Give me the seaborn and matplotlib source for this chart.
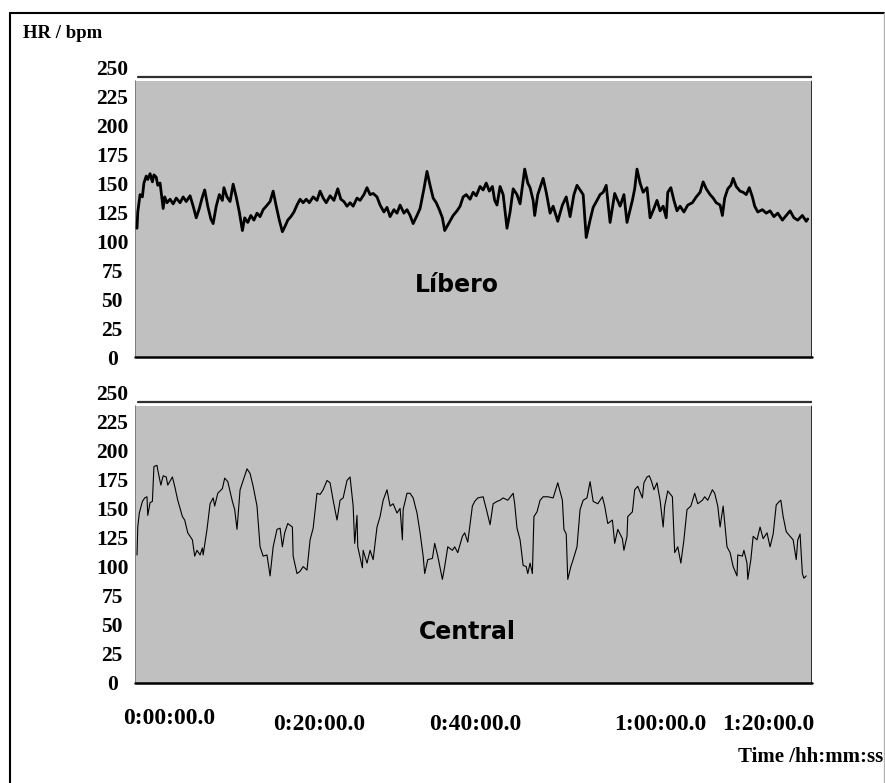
import pandas as pd
import matplotlib.pyplot as plt
import seaborn as sns
from matplotlib.lines import Line2D

# -------------------------------
# Data (time in minutes, HR in bpm)
# -------------------------------
libero_t = [0.0, 0.1, 0.4, 0.7, 0.9, 1.2, 1.4, 1.7, 2.0, 2.2,
            2.5, 2.7, 3.0, 3.4, 3.6, 3.9, 4.3, 4.7, 5.1, 5.6,
            6.0, 6.4, 6.9, 7.3, 7.7, 8.1, 8.5, 8.8, 9.2, 9.6,
            9.9, 10.3, 10.7, 11.1, 11.3, 11.7, 12.1, 12.5, 12.9, 13.3,
            13.7, 14.0, 14.4, 14.8, 15.2, 15.6, 16.0, 16.4, 16.8, 17.3,
            17.7, 18.1, 18.5, 18.9, 19.2, 19.6, 20.0, 20.4, 20.8, 21.2,
            21.6, 22.0, 22.4, 22.9, 23.4, 23.8, 24.2, 24.6, 25.1, 25.6,
            26.1, 26.5, 26.9, 27.3, 27.7, 28.1, 28.6, 29.0, 29.5, 29.9,
            30.3, 30.7, 31.2, 31.6, 32.1, 32.5, 32.9, 33.4, 33.8, 34.2,
            34.7, 35.1, 35.5, 35.9, 36.4, 36.8, 37.3, 37.7, 38.1, 38.5,
            38.9, 39.3, 39.7, 40.0, 40.6, 41.1, 41.6, 42.0, 42.4, 42.8,
            43.3, 43.7, 44.1, 44.6, 45.0, 45.4, 45.8, 46.2, 46.5, 46.8,
            47.2, 47.6, 48.1, 48.5, 48.9, 49.4, 49.8, 50.4, 50.8, 51.1,
            51.5, 51.7, 52.1, 52.8, 53.2, 53.7, 54.1, 54.7, 55.3, 55.8,
            56.3, 56.8, 57.2, 57.6, 58.0, 58.4, 58.9, 59.3, 59.8, 60.2,
            60.6, 61.0, 61.5, 62.1, 62.8, 63.3, 63.7, 64.4, 64.7, 65.0,
            65.4, 65.8, 66.3, 66.7, 67.2, 67.6, 68.0, 68.4, 68.8, 69.0,
            69.4, 69.8, 70.2, 70.6, 71.1, 71.6, 72.2, 72.7, 73.2, 73.6,
            74.0, 74.5, 74.9, 75.3, 75.8, 76.1, 76.4, 76.8, 77.2, 77.5,
            77.9, 78.4, 78.8, 79.2, 79.6, 80.0, 80.3, 80.7, 81.3, 81.8,
            82.3, 82.8, 83.3, 83.9, 84.4, 84.9, 85.4, 85.9, 86.5, 87.0, 87.2]
libero_hr = [111, 125, 140, 138, 150, 156, 153, 158, 151, 157,
             155, 148, 150, 128, 138, 133, 136, 132, 137, 133,
             138, 134, 139, 130, 120, 128, 138, 144, 130, 119,
             115, 130, 140, 135, 146, 138, 134, 149, 138, 125,
             109, 120, 116, 122, 118, 124, 121, 127, 130, 134,
             143, 130, 118, 108, 112, 118, 121, 125, 131, 136,
             133, 136, 133, 138, 135, 143, 137, 133, 139, 135,
             145, 136, 134, 130, 133, 130, 137, 135, 140, 146,
             140, 141, 138, 131, 125, 129, 121, 127, 124, 131,
             124, 127, 122, 115, 122, 128, 145, 160, 148, 137,
             133, 127, 120, 109, 116, 122, 126, 130, 138, 140,
             136, 142, 139, 147, 144, 150, 143, 147, 135, 131,
             147, 140, 111, 125, 145, 140, 132, 162, 150, 146,
             135, 122, 140, 154, 142, 124, 130, 117, 131, 138,
             121, 140, 148, 144, 140, 103, 118, 129, 135, 140,
             142, 148, 116, 141, 130, 140, 116, 135, 145, 162,
             150, 142, 146, 120, 128, 135, 126, 130, 120, 142,
             146, 135, 126, 130, 125, 131, 133, 138, 142, 151,
             145, 140, 137, 133, 131, 122, 137, 145, 148, 154,
             147, 143, 142, 140, 146, 138, 130, 125, 127, 124,
             126, 121, 124, 118, 122, 126, 120, 118, 122, 117, 119]

central_t = [0.0, 0.1, 0.3, 0.7, 1.0, 1.3, 1.4, 1.7, 2.0, 2.2,
             2.6, 2.7, 3.1, 3.4, 3.8, 4.0, 4.6, 4.9, 5.3, 5.9,
             6.2, 6.6, 7.2, 7.5, 7.8, 8.2, 8.5, 8.6, 9.1, 9.5,
             9.9, 10.1, 10.5, 11.1, 11.4, 11.8, 12.4, 12.7, 13.0, 13.4,
             13.8, 14.3, 14.7, 15.1, 15.6, 16.0, 16.4, 16.9, 17.3, 17.7,
             18.2, 18.6, 18.9, 19.2, 19.6, 20.2, 20.3, 20.8, 21.2, 21.6,
             22.1, 22.5, 22.9, 23.4, 23.8, 24.2, 24.7, 25.1, 25.5, 26.0,
             26.4, 26.8, 27.3, 27.7, 28.1, 28.3, 28.6, 28.7, 29.3, 29.4,
             29.9, 30.3, 30.7, 31.2, 31.6, 32.0, 32.5, 32.9, 33.3, 33.8,
             34.2, 34.5, 34.6, 35.1, 35.5, 35.9, 36.4, 36.8, 37.2, 37.4,
             37.8, 38.4, 38.7, 39.1, 39.7, 40.0, 40.4, 41.0, 41.3, 41.7,
             42.3, 42.6, 43.0, 43.6, 43.9, 44.3, 45.0, 45.5, 45.9, 46.3,
             46.8, 47.2, 47.6, 48.2, 48.9, 49.1, 49.4, 49.8, 50.2, 50.6,
             50.8, 51.1, 51.4, 51.6, 52.0, 52.4, 52.8, 53.4, 54.1, 54.7,
             55.3, 55.5, 55.8, 56.0, 56.4, 56.7, 57.2, 57.6, 58.0, 58.5,
             58.9, 59.3, 59.9, 60.5, 60.8, 61.2, 61.8, 62.1, 62.5, 63.1,
             63.3, 63.7, 63.8, 64.4, 64.7, 65.1, 65.7, 65.9, 66.3, 66.6,
             66.9, 67.2, 67.6, 68.0, 68.4, 68.6, 69.0, 69.6, 69.9, 70.3,
             70.7, 71.1, 71.5, 72.0, 72.5, 72.9, 73.5, 73.8, 74.2, 74.8,
             75.1, 75.5, 75.8, 76.2, 76.7, 77.1, 77.5, 78.0, 78.1, 78.7,
             78.9, 79.3, 79.4, 79.8, 80.1, 80.6, 81.0, 81.4, 81.9, 82.3,
             82.7, 83.1, 83.5, 83.7, 84.0, 84.4, 84.9, 85.3, 85.7, 85.9,
             86.2, 86.5, 86.7, 87.0]
central_hr = [110, 134, 146, 156, 159, 160, 144, 155, 156, 186,
              187, 183, 170, 178, 177, 170, 177, 169, 157, 143,
              140, 129, 123, 109, 114, 110, 116, 110, 132, 154,
              159, 152, 163, 167, 176, 173, 156, 149, 132, 166,
              174, 184, 180, 169, 152, 117, 109, 110, 92, 117,
              132, 133, 117, 129, 137, 134, 109, 94, 96, 100,
              97, 123, 133, 163, 162, 166, 174, 172, 157, 140,
              157, 159, 174, 177, 152, 120, 144, 117, 99, 114,
              103, 114, 106, 134, 143, 157, 166, 152, 154, 146,
              150, 123, 149, 163, 163, 159, 146, 129, 109, 94,
              106, 107, 120, 109, 89, 100, 117, 114, 117, 112,
              126, 129, 121, 152, 156, 159, 160, 147, 136, 154,
              156, 157, 159, 157, 163, 154, 133, 123, 101, 100,
              94, 103, 94, 143, 147, 157, 160, 160, 159, 172,
              157, 132, 128, 89, 100, 106, 117, 149, 157, 159,
              173, 156, 154, 160, 152, 137, 140, 120, 132, 124,
              114, 126, 143, 147, 166, 169, 159, 172, 177, 178,
              173, 166, 172, 157, 134, 152, 165, 160, 112, 117,
              103, 123, 149, 152, 163, 154, 157, 160, 157, 166,
              163, 152, 134, 152, 117, 112, 100, 92, 110, 109,
              114, 103, 89, 106, 126, 123, 134, 124, 129, 117,
              128, 153, 156, 157, 143, 130, 126, 123, 106, 123,
              128, 94, 90, 92]

y_ticks = list(range(0, 251, 25))
x_tick_labels = ["0:00:00.0", "0:20:00.0", "0:40:00.0", "1:00:00.0", "1:20:00.0"]
panel_names = ["Líbero", "Central"]

libero = pd.DataFrame({"t": libero_t, "hr": libero_hr})
central = pd.DataFrame({"t": central_t, "hr": central_hr})

# -------------------------------
# Style
# -------------------------------
sns.set_style("white")
plt.rcParams['font.family'] = ['Liberation Serif', 'DejaVu Serif']
plt.rcParams['font.weight'] = 'bold'
plt.rcParams['text.color'] = 'black'
plt.rcParams['ytick.color'] = 'black'

W, H = 885, 783
fig = plt.figure(figsize=(W / 100, H / 100), dpi=100)

# outer frame
fig.add_artist(Line2D([10 / W, 10 / W], [0, 1 - 13 / H], color='black', lw=1.5))
fig.add_artist(Line2D([10 / W, 884 / W], [1 - 13 / H, 1 - 13 / H], color='black', lw=1.5))
fig.add_artist(Line2D([884 / W, 884 / W], [0, 1 - 13 / H], color='#b0b0b0', lw=1))


def draw_panel(ax, df, name, lw, label_xy):
    ax.axhspan(0, 238, color='#c0c0c0', lw=0, zorder=0)
    ax.axhline(241, xmin=0.004, xmax=1, color='#303030', lw=1.6)
    ax.axvline(87.75, ymax=238 / 250, color='black', lw=1.8)
    ax.axvline(-0.26, ymax=238 / 250, color='#707070', lw=1.2)
    ax.axhline(0, color='black', lw=1.8, clip_on=False)
    sns.lineplot(data=df, x="t", y="hr", ax=ax, color='black', lw=lw,
                 estimator=None, sort=False, legend=False)
    ax.set_xlim(-0.26, 87.75)
    ax.set_ylim(0, 250)
    ax.set_xticks([])
    ax.set_yticks(y_ticks)
    ax.set_yticklabels([str(v) for v in y_ticks])
    ax.tick_params(axis='y', length=0, pad=16.5, labelsize=15.5, labelcolor='black')
    for lbl in ax.get_yticklabels():
        lbl.set_horizontalalignment('center')
        lbl.set_fontweight('bold')
    ax.set_xlabel("")
    ax.set_ylabel("")
    for s in ax.spines.values():
        s.set_visible(False)
    ax.set_facecolor('none')
    ax.text(label_xy[0], label_xy[1], name, ha='center', va='center', color='black',
            fontsize=17, fontweight='bold', family='DejaVu Sans')


ax1 = fig.add_axes([135 / W, 1 - 357 / H, 677 / W, 290 / H])
draw_panel(ax1, libero, panel_names[0], 2.0, (41.6, 62))

ax2 = fig.add_axes([135 / W, 1 - 683 / H, 677 / W, 291 / H])
draw_panel(ax2, central, panel_names[1], 0.8, (42.9, 44))

# texts
fig.text(23 / W, 1 - 33 / H, "HR / bpm", ha='left', va='center', fontsize=13.5, fontweight='bold')
label_x = [169, 319, 475, 660, 768]
label_y = [718, 725, 725, 725, 725]
for lab, lx, ly in zip(x_tick_labels, label_x, label_y):
    fig.text(lx / W, 1 - ly / H, lab, ha='center', va='center', fontsize=17, fontweight='bold')
fig.text(883 / W, 1 - 757 / H, "Time /hh:mm:ss", ha='right', va='center', fontsize=15, fontweight='bold')

fig.savefig("out.png", dpi=100, facecolor='white')
